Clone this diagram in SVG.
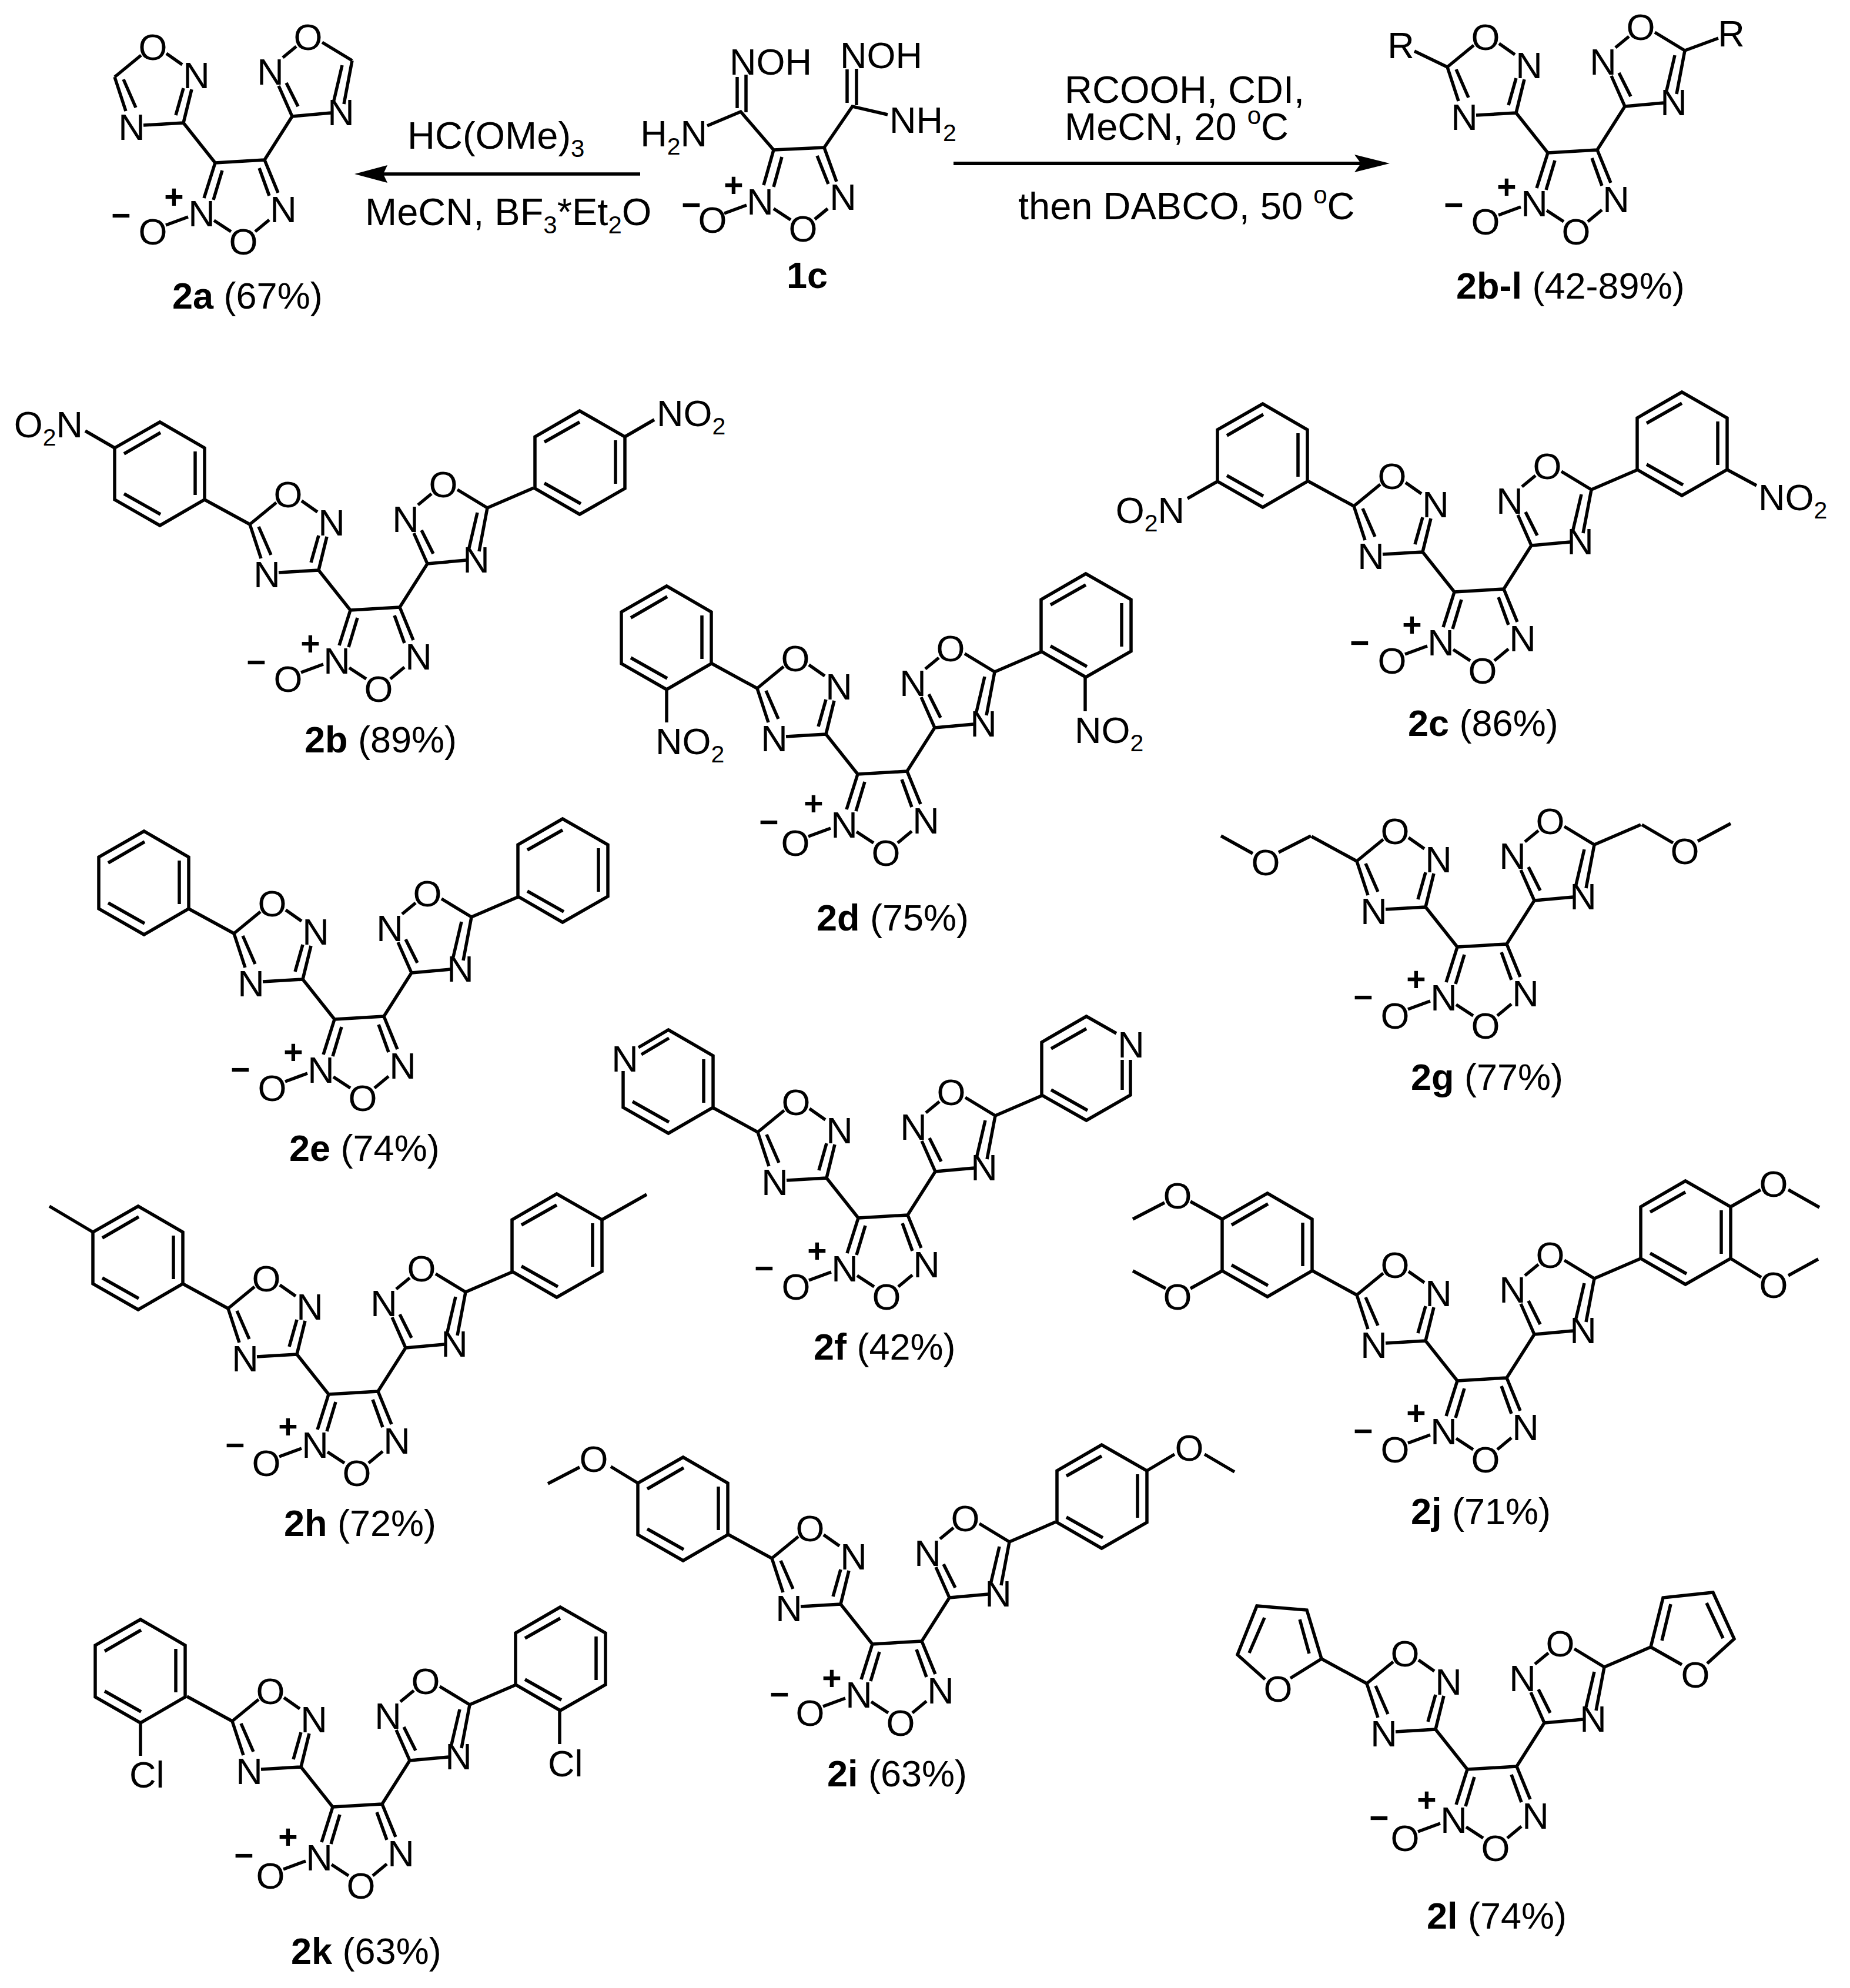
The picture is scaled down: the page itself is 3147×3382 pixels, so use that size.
<svg xmlns="http://www.w3.org/2000/svg" width="3147" height="3382" viewBox="0 0 3147 3382">
<style>
text{font-family:"Liberation Sans",Arial,sans-serif;font-size:63px;fill:#000}
.a{text-anchor:middle}
.e{text-anchor:end}
.c{text-anchor:middle;font-weight:bold;font-size:57px}
.b{fill:none;stroke:#000;stroke-width:5.5}
.r{font-size:65px}
</style>
<defs>
<path id="core" class="b" d="M0,0L84,-5M0,0L-19,60M12,13L-3,63M84,-5L107,51M75,9L92,56M-2,98L27,117M68,117L92,97M-84,106L-46,92M0,0L-54,-68M84,-5L131,-79M-54,-68L-40,-125M-67,-81L-54,-127M-54,-68L-122,-64M-152,-88L-171,-146M-135,-94L-156,-142M-171,-146L-126,-183M-83,-186L-56,-167M131,-79L108,-131M141,-96L121,-136M131,-79L197,-85M233,-174L219,-100M216,-166L202,-106M233,-174L182,-205M138,-198L115,-179"/>
<path id="arms" class="b" d="M-171,-146L-248,-188M233,-174L312,-208"/>
<path id="hexL" class="b" d="M0,0V-88L-76,-132L-153,-88V0L-76,44ZM-16,-82V-8M-137,-78L-75,-114M-137,-10L-75,25"/>
<path id="hexR" class="b" d="M0,0V-88L76,-132L153,-88V0L76,44ZM137,-82V-8M16,-79L76,-113M16,-9L78,26"/>
</defs>

<g id="connectors">
<path class="b" d="M1089,296H640"/>
<path d="M603,296L659,281L652,296L659,311Z"/>
<path class="b" style="stroke-width:6" d="M1622,278H2320"/>
<path d="M2364,278L2304,263L2315,278L2304,293Z"/>
</g>

<g id="reagents">
<text class="r" x="693" y="253">HC(OMe)<tspan font-size="42" dy="14">3</tspan></text>
<text class="r" x="621" y="383">MeCN, BF<tspan font-size="42" dy="14">3</tspan><tspan dy="-14">*Et</tspan><tspan font-size="42" dy="14">2</tspan><tspan dy="-14">O</tspan></text>
<text class="r" x="1811" y="175">RCOOH, CDI,</text>
<text class="r" x="1811" y="238">MeCN, 20 <tspan font-size="42" dy="-27">o</tspan><tspan dy="27">C</tspan></text>
<text class="r" x="1732" y="373">then DABCO, 50 <tspan font-size="42" dy="-27">o</tspan><tspan dy="27">C</tspan></text>
</g>

<g id="m1c">
<g transform="translate(1316,255)">
<path class="b" d="M0,0L86,-4M0,0L-17,60M14,12L0,63M86,-4L107,54M74,10L93,58M0,100L29,119M70,118L92,100M-84,108L-46,94"/>
<text class="a" x="-23" y="110">N</text>
<text class="a" x="118" y="102">N</text>
<text class="a" x="50" y="156">O</text>
<text class="a" x="-104" y="141">O</text>
<text class="c" x="-68" y="80">+</text>
<text class="c" x="-140" y="113">−</text>
</g>
<path class="b" d="M1316,255L1260,190L1203,214M1254,184V131M1269,191V127M1402,251L1450,181L1510,195M1441,175V118M1457,179V117"/>
<text x="1241" y="127">NOH</text>
<text x="1429" y="116">NOH</text>
<text class="e" x="1203" y="249">H<tspan font-size="41" dy="14">2</tspan><tspan dy="-14">N</tspan></text>
<text x="1513" y="226">NH<tspan font-size="41" dy="14">2</tspan></text>
<text x="1338" y="490" font-weight="bold">1c</text>
</g>

<g id="m2a">
<g transform="translate(366,277)">
<use href="#core"/>
<text class="a" x="-23" y="108">N</text><text class="a" x="116" y="101">N</text><text class="a" x="48" y="156">O</text><text class="a" x="-106" y="139">O</text><text class="c" x="-70" y="78">+</text><text class="c" x="-160" y="109">−</text><text class="a" x="-142" y="-39">N</text><text class="a" x="-106" y="-175">O</text><text class="a" x="-32" y="-127">N</text><text class="a" x="214" y="-64">N</text><text class="a" x="158" y="-192">O</text><text class="a" x="94" y="-133">N</text>
</g>
<text x="293" y="525"><tspan font-weight="bold">2a</tspan> (67%)</text>
</g>

<g id="m2bl">
<g transform="translate(2633,260)">
<use href="#core"/>
<path class="b" d="M-171,-146L-227,-173M233,-174L290,-195"/>
<text class="a" x="-250" y="-161">R</text><text class="a" x="312" y="-181">R</text>
<text class="a" x="-23" y="108">N</text><text class="a" x="116" y="101">N</text><text class="a" x="48" y="156">O</text><text class="a" x="-106" y="139">O</text><text class="c" x="-70" y="78">+</text><text class="c" x="-160" y="108">−</text><text class="a" x="-142" y="-39">N</text><text class="a" x="-106" y="-175">O</text><text class="a" x="-32" y="-127">N</text><text class="a" x="214" y="-64">N</text><text class="a" x="158" y="-192">O</text><text class="a" x="94" y="-133">N</text>
</g>
<text x="2477" y="508"><tspan font-weight="bold">2b-l</tspan> (42-89%)</text>
</g>

<g id="m2b">
<g transform="translate(596,1038)">
<use href="#core"/><use href="#arms"/><use href="#hexL" transform="translate(-248,-188)"/><use href="#hexR" transform="translate(314,-207)"/>
<path class="b" d="M-401,-276L-451,-305M467,-295L517,-324"/>
<text class="e" x="-455" y="-294">O<tspan font-size="41" dy="14">2</tspan><tspan dy="-14">N</tspan></text>
<text x="521" y="-313">NO<tspan font-size="41" dy="14">2</tspan></text>
<text class="a" x="-23" y="108">N</text><text class="a" x="116" y="101">N</text><text class="a" x="48" y="156">O</text><text class="a" x="-106" y="139">O</text><text class="c" x="-68" y="77">+</text><text class="c" x="-160" y="108">−</text><text class="a" x="-142" y="-39">N</text><text class="a" x="-106" y="-175">O</text><text class="a" x="-32" y="-127">N</text><text class="a" x="214" y="-64">N</text><text class="a" x="158" y="-192">O</text><text class="a" x="94" y="-133">N</text>
</g>
<text x="518" y="1280"><tspan font-weight="bold">2b</tspan> (89%)</text>
</g>

<g id="m2c">
<g transform="translate(2474,1007)">
<use href="#core"/><use href="#arms"/><use href="#hexL" transform="translate(-250,-188)"/><use href="#hexR" transform="translate(311,-208)"/>
<path class="b" d="M-403,-188L-454,-159M464,-208L514,-181"/>
<text class="e" x="-459" y="-117">O<tspan font-size="41" dy="14">2</tspan><tspan dy="-14">N</tspan></text>
<text x="517" y="-139">NO<tspan font-size="41" dy="14">2</tspan></text>
<text class="a" x="-23" y="108">N</text><text class="a" x="116" y="101">N</text><text class="a" x="48" y="156">O</text><text class="a" x="-106" y="139">O</text><text class="c" x="-72" y="76">+</text><text class="c" x="-161" y="106">−</text><text class="a" x="-142" y="-39">N</text><text class="a" x="-106" y="-175">O</text><text class="a" x="-32" y="-127">N</text><text class="a" x="214" y="-64">N</text><text class="a" x="158" y="-192">O</text><text class="a" x="94" y="-133">N</text>
</g>
<text x="2395" y="1252"><tspan font-weight="bold">2c</tspan> (86%)</text>
</g>

<g id="m2d">
<g transform="translate(1459,1317)">
<use href="#core"/><use href="#arms"/><use href="#hexL" transform="translate(-249,-188)"/><use href="#hexR" transform="translate(312,-209)"/>
<path class="b" d="M-325,-145V-88M387,-166V-107"/>
<text x="-344" y="-34">NO<tspan font-size="41" dy="14">2</tspan></text>
<text x="369" y="-53">NO<tspan font-size="41" dy="14">2</tspan></text>
<text class="a" x="-23" y="108">N</text><text class="a" x="116" y="101">N</text><text class="a" x="48" y="156">O</text><text class="a" x="-106" y="139">O</text><text class="c" x="-75" y="70">+</text><text class="c" x="-151" y="101">−</text><text class="a" x="-142" y="-39">N</text><text class="a" x="-106" y="-175">O</text><text class="a" x="-32" y="-127">N</text><text class="a" x="214" y="-64">N</text><text class="a" x="158" y="-192">O</text><text class="a" x="94" y="-133">N</text>
</g>
<text x="1389" y="1583"><tspan font-weight="bold">2d</tspan> (75%)</text>
</g>

<g id="m2e">
<g transform="translate(569,1734)">
<use href="#core"/><use href="#arms"/><use href="#hexL" transform="translate(-248,-188)"/><use href="#hexR" transform="translate(312,-209)"/>
<text class="a" x="-23" y="108">N</text><text class="a" x="116" y="101">N</text><text class="a" x="48" y="156">O</text><text class="a" x="-106" y="139">O</text><text class="c" x="-70" y="76">+</text><text class="c" x="-160" y="105">−</text><text class="a" x="-142" y="-39">N</text><text class="a" x="-106" y="-175">O</text><text class="a" x="-32" y="-127">N</text><text class="a" x="214" y="-64">N</text><text class="a" x="158" y="-192">O</text><text class="a" x="94" y="-133">N</text>
</g>
<text x="492" y="1975"><tspan font-weight="bold">2e</tspan> (74%)</text>
</g>

<g id="m2f">
<g transform="translate(1460,2072)">
<use href="#core"/><use href="#arms"/>
<path class="b" transform="translate(-247,-188)" d="M-127,-102L-76,-132L0,-88V0L-76,44L-153,0V-62M-16,-82V-8M-122,-90L-75,-118M-137,-10L-75,25"/>
<path class="b" transform="translate(312,-209)" d="M127,-105L76,-134L0,-90V0L76,43L151,0V-60M16,-79L76,-113M16,-9L78,26M137,-60V-9"/>
<text class="a" x="-397" y="-249">N</text>
<text class="a" x="464" y="-273">N</text>
<text class="a" x="-23" y="108">N</text><text class="a" x="116" y="101">N</text><text class="a" x="48" y="156">O</text><text class="a" x="-106" y="139">O</text><text class="c" x="-70" y="76">+</text><text class="c" x="-160" y="105">−</text><text class="a" x="-142" y="-39">N</text><text class="a" x="-106" y="-175">O</text><text class="a" x="-32" y="-127">N</text><text class="a" x="214" y="-64">N</text><text class="a" x="158" y="-192">O</text><text class="a" x="94" y="-133">N</text>
</g>
<text x="1384" y="2313"><tspan font-weight="bold">2f</tspan> (42%)</text>
</g>

<g id="m2g">
<g transform="translate(2479,1611)">
<use href="#core"/><use href="#arms"/>
<path class="b" d="M-249,-189L-304,-161M-348,-159L-402,-189M314,-208L367,-177M409,-180L465,-210"/>
<text class="a" x="-326" y="-122">O</text>
<text class="a" x="387" y="-141">O</text>
<text class="a" x="-23" y="108">N</text><text class="a" x="116" y="101">N</text><text class="a" x="48" y="156">O</text><text class="a" x="-106" y="139">O</text><text class="c" x="-70" y="75">+</text><text class="c" x="-160" y="105">−</text><text class="a" x="-142" y="-39">N</text><text class="a" x="-106" y="-175">O</text><text class="a" x="-32" y="-127">N</text><text class="a" x="214" y="-64">N</text><text class="a" x="158" y="-192">O</text><text class="a" x="94" y="-133">N</text>
</g>
<text x="2400" y="1854"><tspan font-weight="bold">2g</tspan> (77%)</text>
</g>

<g id="m2h">
<g transform="translate(559,2372)">
<use href="#core"/><use href="#arms"/><use href="#hexL" transform="translate(-248,-188)"/><use href="#hexR" transform="translate(312,-209)"/>
<path class="b" d="M-401,-276L-475,-320M465,-297L541,-340"/>
<text class="a" x="-23" y="108">N</text><text class="a" x="116" y="101">N</text><text class="a" x="48" y="156">O</text><text class="a" x="-106" y="139">O</text><text class="c" x="-69" y="75">+</text><text class="c" x="-159" y="106">−</text><text class="a" x="-142" y="-39">N</text><text class="a" x="-106" y="-175">O</text><text class="a" x="-32" y="-127">N</text><text class="a" x="214" y="-64">N</text><text class="a" x="158" y="-192">O</text><text class="a" x="94" y="-133">N</text>
</g>
<text x="483" y="2613"><tspan font-weight="bold">2h</tspan> (72%)</text>
</g>

<g id="m2i">
<g transform="translate(1484,2797)">
<use href="#core"/><use href="#arms"/><use href="#hexL" transform="translate(-246,-186)"/><use href="#hexR" transform="translate(314,-207)"/>
<path class="b" d="M-399,-274L-445,-302M-498,-301L-552,-273M467,-295L514,-323M565,-323L616,-293"/>
<text class="a" x="-474" y="-293">O</text>
<text class="a" x="539" y="-312">O</text>
<text class="a" x="-23" y="108">N</text><text class="a" x="116" y="101">N</text><text class="a" x="48" y="156">O</text><text class="a" x="-106" y="139">O</text><text class="c" x="-69" y="78">+</text><text class="c" x="-158" y="105">−</text><text class="a" x="-142" y="-39">N</text><text class="a" x="-106" y="-175">O</text><text class="a" x="-32" y="-127">N</text><text class="a" x="214" y="-64">N</text><text class="a" x="158" y="-192">O</text><text class="a" x="94" y="-133">N</text>
</g>
<text x="1407" y="3039"><tspan font-weight="bold">2i</tspan> (63%)</text>
</g>

<g id="m2j">
<g transform="translate(2479,2349)">
<use href="#core"/><use href="#arms"/><use href="#hexL" transform="translate(-247,-187)"/><use href="#hexR" transform="translate(312,-208)"/>
<path class="b" d="M-400,-275L-454,-305M-498,-303L-552,-275M-400,-187L-454,-157M-496,-157L-552,-187M465,-296L516,-325M563,-325L616,-295M465,-208L517,-176M563,-179L614,-207"/>
<text class="a" x="-476" y="-293">O</text>
<text class="a" x="-476" y="-121">O</text>
<text class="a" x="538" y="-313">O</text>
<text class="a" x="538" y="-141">O</text>
<text class="a" x="-23" y="108">N</text><text class="a" x="116" y="101">N</text><text class="a" x="48" y="156">O</text><text class="a" x="-106" y="139">O</text><text class="c" x="-70" y="75">+</text><text class="c" x="-160" y="105">−</text><text class="a" x="-142" y="-39">N</text><text class="a" x="-106" y="-175">O</text><text class="a" x="-32" y="-127">N</text><text class="a" x="214" y="-64">N</text><text class="a" x="158" y="-192">O</text><text class="a" x="94" y="-133">N</text>
</g>
<text x="2400" y="2593"><tspan font-weight="bold">2j</tspan> (71%)</text>
</g>

<g id="m2k">
<g transform="translate(566,3074)">
<use href="#core"/><use href="#arms"/><use href="#hexL" transform="translate(-251,-187)"/><use href="#hexR" transform="translate(311,-208)"/>
<path class="b" d="M-327,-146V-87M386,-165V-107"/>
<text x="-346" y="-33">Cl</text>
<text x="366" y="-52">Cl</text>
<text class="a" x="-23" y="108">N</text><text class="a" x="116" y="101">N</text><text class="a" x="48" y="156">O</text><text class="a" x="-106" y="139">O</text><text class="c" x="-76" y="71">+</text><text class="c" x="-151" y="102">−</text><text class="a" x="-142" y="-39">N</text><text class="a" x="-106" y="-175">O</text><text class="a" x="-32" y="-127">N</text><text class="a" x="214" y="-64">N</text><text class="a" x="158" y="-192">O</text><text class="a" x="94" y="-133">N</text>
</g>
<text x="495" y="3341"><tspan font-weight="bold">2k</tspan> (63%)</text>
</g>

<g id="m2l">
<g transform="translate(2496,3010)">
<use href="#core"/><use href="#arms"/>
<path class="b" d="M-248,-188L-273,-271L-358,-278L-391,-195L-344,-153M-248,-188L-301,-155M-269,-197L-285,-255M-345,-258L-371,-198"/>
<path class="b" d="M312,-208L333,-292L418,-301L454,-222L408,-180M312,-208L365,-178M331,-219L346,-281M407,-283L435,-223"/>
<text class="a" x="-322" y="-115">O</text>
<text class="a" x="388" y="-139">O</text>
<text class="a" x="-23" y="108">N</text><text class="a" x="116" y="101">N</text><text class="a" x="48" y="156">O</text><text class="a" x="-106" y="139">O</text><text class="c" x="-69" y="72">+</text><text class="c" x="-150" y="102">−</text><text class="a" x="-142" y="-39">N</text><text class="a" x="-106" y="-175">O</text><text class="a" x="-32" y="-127">N</text><text class="a" x="214" y="-64">N</text><text class="a" x="158" y="-192">O</text><text class="a" x="94" y="-133">N</text>
</g>
<text x="2427" y="3281"><tspan font-weight="bold">2l</tspan> (74%)</text>
</g>
</svg>
